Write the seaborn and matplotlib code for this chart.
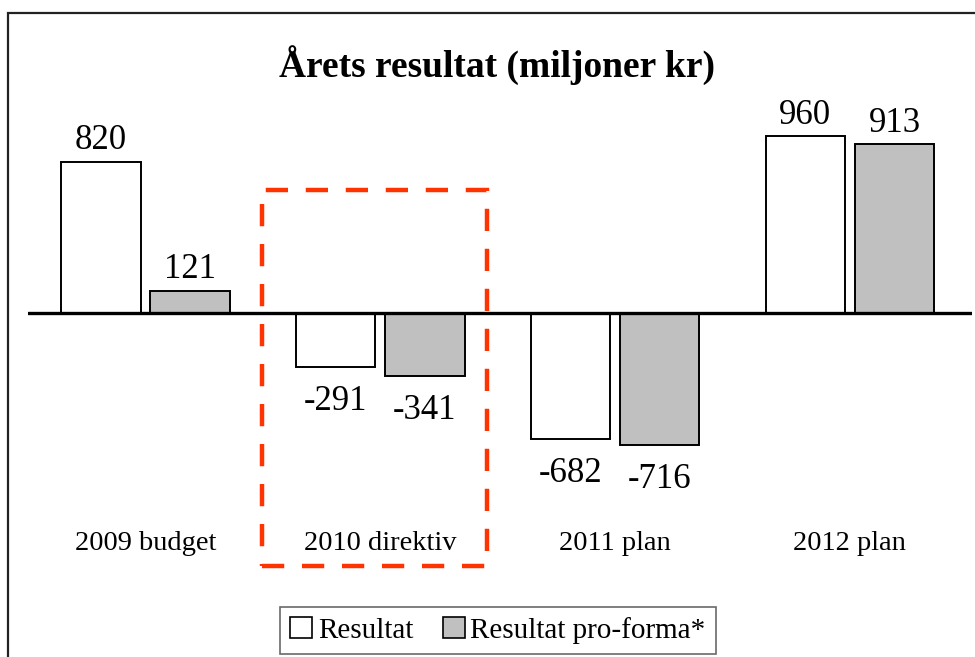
import matplotlib
matplotlib.use("Agg")
import matplotlib.pyplot as plt
import matplotlib.patches as mpatches
import pandas as pd
import seaborn as sns

# ── data ────────────────────────────────────────────────────
categories   = ["2009 budget", "2010 direktiv", "2011 plan", "2012 plan"]
resultat     = [820, -291, -682, 960]
proforma     = [121, -341, -716, 913]
series_names = ["Resultat", "Resultat pro-forma*"]

df = pd.DataFrame({
    "kategori": categories * 2,
    "serie": [series_names[0]] * 4 + [series_names[1]] * 4,
    "varde": resultat + proforma,
})

sns.set_style("white")
plt.rcParams["font.family"] = ["Liberation Serif", "DejaVu Serif"]
plt.rcParams["text.color"] = "black"
plt.rcParams["xtick.color"] = "black"
plt.rcParams["xtick.labelcolor"] = "black"

fig = plt.figure(figsize=(9.75, 6.57), dpi=100)
W, H = 975, 657
# axes placed in pixel terms: x 28..972, y 100..528
ax = fig.add_axes([28 / W, 1 - 528 / H, (972 - 28) / W, (528 - 100) / H])

sns.barplot(data=df, x="kategori", y="varde", hue="serie", order=categories,
            hue_order=series_names,
            palette={series_names[0]: "white", series_names[1]: "#c0c0c0"},
            width=0.76, gap=0.11, edgecolor="black", linewidth=1.4,
            ax=ax, legend=False)

ax.set_xlim(-0.5, 3.52)
ax.set_ylim(-1165, 1154)
ax.axhline(0, color="black", lw=2.4, zorder=5)

# labels: small gap above positive bars, wider gap below negative ones
for cont, vals in zip(ax.containers, [resultat, proforma]):
    pos = [f"{v}" if v >= 0 else "" for v in vals]
    neg = [f"{v}" if v < 0 else "" for v in vals]
    ax.bar_label(cont, labels=pos, padding=3, fontsize=25, color="black")
    ax.bar_label(cont, labels=neg, padding=13, fontsize=25, color="black")

for s in ax.spines.values():
    s.set_visible(False)
ax.set_yticks([])
ax.tick_params(axis="x", length=0, pad=2, labelsize=20.5, labelcolor="black")
ax.set_xlabel("")
ax.set_ylabel("")

# red dashed highlight around 2010
rect = mpatches.Rectangle((0.496, -1371), 0.957, 2038, fill=False,
                          edgecolor="#ff3300", lw=3.2, linestyle=(0, (5, 4)),
                          clip_on=False, zorder=6)
ax.add_patch(rect)

fig.text(0.51, 1 - 65 / H, "Årets resultat (miljoner kr)", ha="center",
         va="center", fontsize=27, fontweight="bold", color="black")

handles = [mpatches.Patch(facecolor="white", edgecolor="black", lw=1.2),
           mpatches.Patch(facecolor="#c0c0c0", edgecolor="black", lw=1.2)]
leg = fig.legend(handles, series_names, loc="lower center",
                 bbox_to_anchor=(498 / W, 3 / H), ncol=2, fontsize=21,
                 frameon=True, fancybox=False, edgecolor="#444444",
                 handlelength=0.75, handleheight=0.75, handletextpad=0.2,
                 columnspacing=1.0, borderpad=0.35, borderaxespad=0)
leg.get_frame().set_linewidth(1.2)
for t in leg.get_texts():
    t.set_color("black")

# outer frame, cut off at right and bottom
fig.patches.append(mpatches.Rectangle((8 / W, -0.1), 1.1, 1.1 - 13 / H,
                                      transform=fig.transFigure, fill=False,
                                      edgecolor="#222222", lw=1.6))

fig.savefig("out.png", dpi=100)
